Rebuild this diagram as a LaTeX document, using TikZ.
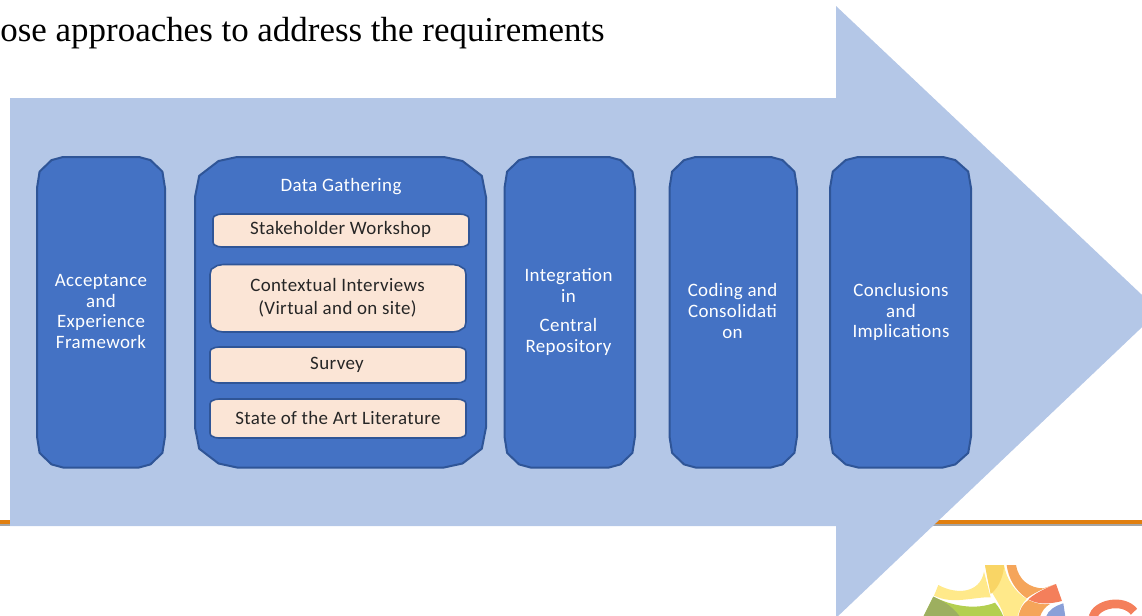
\documentclass[tikz,border=0pt]{standalone}
\usepackage{fontspec}
\setmainfont{Liberation Serif}
\newfontfamily\boxfont[LetterSpace=2]{Carlito}
\definecolor{arrowblue}{HTML}{B4C7E7}
\definecolor{boxblue}{HTML}{4472C4}
\definecolor{boxedge}{HTML}{2F5597}
\definecolor{peach}{HTML}{FBE5D6}
\definecolor{ruleorange}{HTML}{E07F10}
\definecolor{rulegray}{HTML}{A5A5A5}
\definecolor{lgyellow}{HTML}{FFE98A}
\definecolor{lgamber}{HTML}{F9D565}
\definecolor{lgorange}{HTML}{F5A55A}
\definecolor{lgred}{HTML}{F47F5B}
\definecolor{lgblue}{HTML}{8AA0D8}
\definecolor{lggreen}{HTML}{B3CF50}
\definecolor{lgdark}{HTML}{9DAF5F}
\tikzset{
  stageshape/.style={draw=boxedge,fill=boxblue,line width=1.5pt,line join=round},
  subshape/.style={draw=boxedge,fill=peach,line width=1.2pt,line join=round},
  stagetext/.style={text=white,align=center,inner sep=0pt,font=\boxfont\fontsize{14.2}{15.7}\selectfont},
  subtext/.style={text=black!85,align=center,inner sep=0pt,font=\boxfont\fontsize{14.2}{17.5}\selectfont}
}
% #1 style, #2 x0, #3 y0, #4 x1, #5 y1, #6 corner dx, #7 corner dy
\newcommand{\faceted}[7]{%
  \path[#1] (#2,{#3+#7})
   -- ({#2+.1*#6},{#3+.47*#7}) -- ({#2+.56*#6},{#3+.1*#7}) -- ({#2+#6},#3)
   -- ({#4-#6},#3) -- ({#4-.56*#6},{#3+.1*#7}) -- ({#4-.1*#6},{#3+.47*#7}) -- (#4,{#3+#7})
   -- (#4,{#5-#7}) -- ({#4-.1*#6},{#5-.47*#7}) -- ({#4-.56*#6},{#5-.1*#7}) -- ({#4-#6},#5)
   -- ({#2+#6},#5) -- ({#2+.56*#6},{#5-.1*#7}) -- ({#2+.1*#6},{#5-.47*#7}) -- (#2,{#5-#7}) -- cycle;}
\begin{document}
\begin{tikzpicture}[x=0.75pt,y=-0.75pt]
\clip (0,0) rectangle (1142,615);
% rules
\fill[ruleorange] (0,520) rectangle (1142,523.5);
\fill[rulegray] (0,523.5) rectangle (1142,526);
% arrow
\fill[arrowblue] (10,98) -- (836,98) -- (836,6) -- (1159,311) -- (836,618) -- (836,526) -- (10,526) -- cycle;
% title
\node[anchor=base east,inner sep=0pt,font=\fontsize{26.2}{30}\selectfont] (title) at (605,41) {ose approaches to address the requirements};
% stages
\faceted{stageshape}{37}{157}{165}{467.5}{26}{31}
\node[stagetext] (accept) at (101,311.5) {Acceptance\\and\\Experience\\Framework};
\faceted{stageshape}{195}{157}{486}{467.5}{42}{40}
\node[stagetext] (gather) at (341,187) {Data Gathering};
\faceted{stageshape}{504.5}{157}{635}{467.5}{26}{31}
\node[stagetext] (integ) at (568.5,312) {Integration\\in\\[6pt]Central\\Repository};
\faceted{stageshape}{669.5}{157}{797}{467.5}{26}{31}
\node[stagetext] (coding) at (732.5,311) {Coding and\\Consolidati\\on};
\faceted{stageshape}{830}{157}{971}{467.5}{28}{31}
\node[stagetext] (concl) at (901,312) {Conclusions\\and\\Implications};
% sub boxes
\faceted{subshape}{213}{214}{469}{247}{9}{5}
\node[subtext] (work) at (340.5,229.5) {Stakeholder Workshop};
\faceted{subshape}{210}{264.5}{466}{332}{13}{10}
\node[subtext] (inter) at (337.5,298) {Contextual Interviews\\(Virtual and on site)};
\faceted{subshape}{210}{347}{466}{383}{9}{5}
\node[subtext] (survey) at (337,365) {Survey};
\faceted{subshape}{210}{399}{466}{438}{9}{5}
\node[subtext] (art) at (338,417.5) {State of the Art Literature};
% logo
\begin{scope}[shift={(880,500)},x=0.25pt,y=-0.25pt]
\fill[lgorange] (380,195) -- (408,195) .. controls (415,240) and (450,265) .. (490,265) -- (528,252) .. controls (490,265) and (460,280) .. (440,295) .. controls (405,270) and (385,235) .. (380,195) -- cycle;
\fill[lgyellow] (175,255) .. controls (230,285) and (300,280) .. (312,215) -- (332,292) .. controls (280,290) and (220,315) .. (162,287) -- cycle;
\fill[lgyellow] (315,195) -- (372,195) .. controls (380,240) and (405,275) .. (440,297) .. controls (425,310) and (418,330) .. (412,350) -- (372,350) .. controls (365,320) and (345,295) .. (332,270) -- cycle;
\fill[lgamber] (315,195) -- (372,195) .. controls (372,220) and (360,260) .. (332,282) .. controls (325,250) and (320,225) .. (315,195) -- cycle;
\fill[lggreen] (160,290) .. controls (220,320) and (290,330) .. (345,308) .. controls (355,320) and (365,335) .. (370,350) -- (130,350) -- cycle;
\fill[lgdark] (160,290) .. controls (180,300) and (210,310) .. (240,350) -- (130,350) -- cycle;
\fill[lgorange] (415,350) .. controls (420,325) and (430,310) .. (445,300) .. controls (465,310) and (490,315) .. (510,312) .. controls (495,320) and (485,335) .. (480,350) -- cycle;
\fill[lgred] (445,298) .. controls (465,280) and (495,265) .. (528,252) -- (546,303) .. controls (510,312) and (475,315) .. (445,298) -- cycle;
\fill[lgblue] (498,350) .. controls (505,330) and (525,318) .. (550,310) -- (556,350) -- cycle;
\draw[line width=6.5pt,draw=lgred] (638,352) .. controls (650,310) and (730,295) .. (762,335);
\end{scope}
\end{tikzpicture}
\end{document}
